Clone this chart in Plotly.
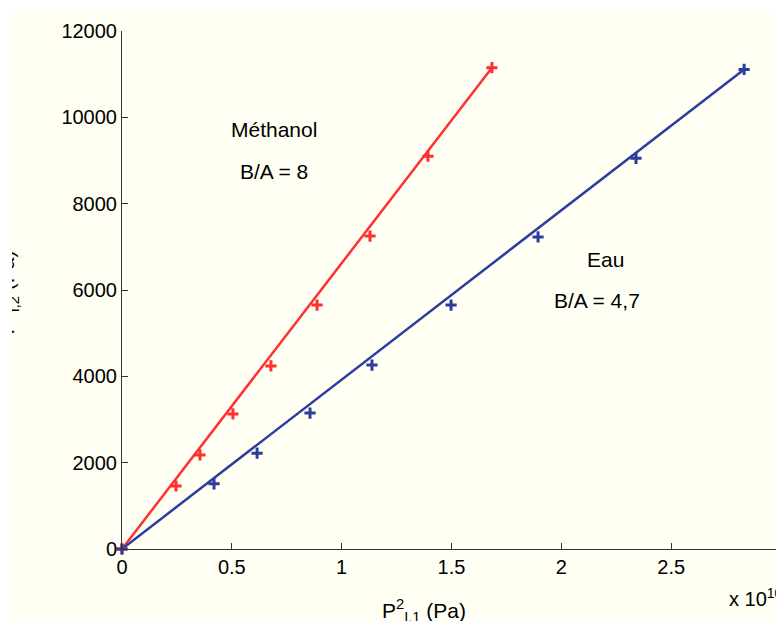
import plotly.graph_objects as go

# Data (x in units of 1e10 Pa^2)
meth_x = [0, 0.246, 0.355, 0.505, 0.678, 0.888, 1.129, 1.393, 1.684]
meth_y = [0, 1460, 2180, 3130, 4240, 5650, 7250, 9100, 11150]
eau_x = [0, 0.419, 0.615, 0.856, 1.138, 1.498, 1.894, 2.340, 2.832]
eau_y = [0, 1510, 2220, 3150, 4260, 5650, 7230, 9050, 11110]

# Fit lines (origin to end)
meth_fit_x = [0, 1.684]
meth_fit_y = [0, 11150]
eau_fit_x = [0, 2.832]
eau_fit_y = [0, 11110]

x_ticks = [0, 0.5, 1, 1.5, 2, 2.5, 3]
x_tick_labels = ["0", "0.5", "1", "1.5", "2", "2.5", "3"]
y_ticks = [0, 2000, 4000, 6000, 8000, 10000, 12000]
y_tick_labels = ["0", "2000", "4000", "6000", "8000", "10000", "12000"]

RED = "#FF3030"
BLUE = "#2E3C9E"
CREAM = "#FFFFF3"
FONT = "Liberation Sans, Arial, sans-serif"

fig = go.Figure()
fig.add_trace(go.Scatter(x=meth_fit_x, y=meth_fit_y, mode="lines",
                         line=dict(color=RED, width=2.5), showlegend=False))
fig.add_trace(go.Scatter(x=eau_fit_x, y=eau_fit_y, mode="lines",
                         line=dict(color=BLUE, width=2.5), showlegend=False))
fig.add_trace(go.Scatter(x=meth_x, y=meth_y, mode="markers",
                         marker=dict(symbol="cross-thin", size=8, line=dict(color=RED, width=3)),
                         showlegend=False, cliponaxis=False))
fig.add_trace(go.Scatter(x=eau_x, y=eau_y, mode="markers",
                         marker=dict(symbol="cross-thin", size=8, line=dict(color=BLUE, width=3)),
                         showlegend=False, cliponaxis=False))

OFF = 8  # page body margin
W, H = 776, 613
L, R, T, B = 114, 3, 23, 72
pw, ph = W - L - R, H - T - B

def px_x(p):  # page pixel -> paper x
    return (p - OFF - L) / pw

def px_y(p):  # page pixel -> paper y
    return (H - B - (p - OFF)) / ph

ann_font = dict(family=FONT, size=21, color="black")

def ann(xp, yp, text, **kw):
    d = dict(x=px_x(xp), y=px_y(yp), xref="paper", yref="paper", text=text, showarrow=False,
             font=ann_font, xanchor="center", yanchor="middle")
    d.update(kw)
    return d

annotations = [
    ann(274, 130, "Méthanol"),
    ann(274, 171, "B/A = 8"),
    ann(605, 259, "Eau"),
    ann(597, 300, "B/A = 4,7"),
    ann(785, 612, "x 10<sup>10</sup>", xanchor="right", yanchor="bottom",
        font=dict(family=FONT, size=20, color="black")),
    ann(424, 627, "P<sup>2</sup><sub>I,1</sub> (Pa)", yanchor="bottom"),
    ann(23, 293, "P<sup>2</sup><sub>I,2</sub> (Pa)", textangle=-90, xanchor="right"),
    # white page edge strips (on top of the cropped y label)
    ann(8, 8, " ", xanchor="left", yanchor="top", width=4, height=640, bgcolor="white",
        borderpad=0, borderwidth=0),
    ann(8, 8, " ", xanchor="left", yanchor="top", width=800, height=4, bgcolor="white",
        borderpad=0, borderwidth=0),
]

fig.update_layout(
    width=W, height=H,
    margin=dict(l=L, r=R, t=T, b=B),
    paper_bgcolor=CREAM, plot_bgcolor=CREAM,
    font=dict(family=FONT, size=20, color="black"),
    annotations=annotations,
    xaxis=dict(range=[0, 3], tickvals=x_ticks, ticktext=x_tick_labels, ticks="inside", ticklen=6,
               tickcolor="#333", showline=True, linecolor="#333", linewidth=1, showgrid=False,
               zeroline=False, tickfont=dict(size=20), mirror=False),
    yaxis=dict(range=[0, 12000], tickvals=y_ticks, ticktext=y_tick_labels, ticks="inside", ticklen=6,
               tickcolor="#333", showline=True, linecolor="#333", linewidth=1, showgrid=False,
               zeroline=False, tickfont=dict(size=20), mirror=False),
)

fig.write_html("out.html")
